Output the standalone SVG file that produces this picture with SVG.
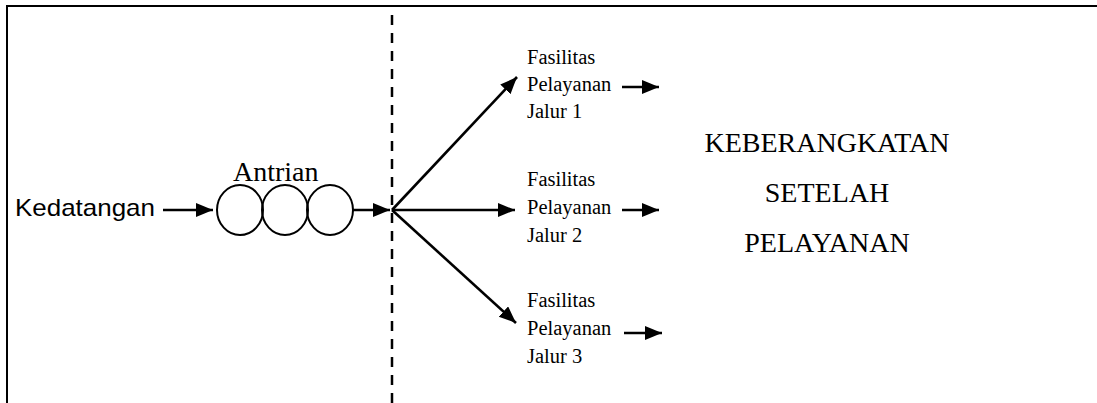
<svg xmlns="http://www.w3.org/2000/svg" width="1097" height="403" viewBox="0 0 1097 403">
<defs>
<marker id="ah" markerWidth="20" markerHeight="16" refX="17" refY="7" orient="auto" markerUnits="userSpaceOnUse">
<path d="M0,0 L17,7 L0,14 z" fill="#000"/>
</marker>
<style>
.ln{stroke:#000;stroke-width:2;fill:none}
.arr{stroke:#000;stroke-width:2.6;fill:none;marker-end:url(#ah)}
.tn{font-family:"Liberation Serif","Times New Roman",serif;fill:#000}
.sm{font-size:20.5px}
</style>
</defs>
<rect width="1097" height="403" fill="#fff"/>
<g id="frame">
<polyline class="ln" points="7,403 7,6 1097,6"/>
<line x1="392" y1="15" x2="392" y2="403" stroke="#000" stroke-width="2.5" stroke-dasharray="10 8"/>
</g>
<g id="kedatangan">
<text x="15" y="216" font-family="Liberation Sans, Arial, sans-serif" font-size="24" textLength="140" lengthAdjust="spacingAndGlyphs">Kedatangan</text>
</g>
<g id="antrian">
<text x="233" y="181" font-family="Liberation Serif, Times New Roman, serif" font-size="28">Antrian</text>
<ellipse class="ln" cx="240" cy="210" rx="23" ry="25"/>
<ellipse class="ln" cx="285" cy="210" rx="23" ry="25"/>
<ellipse class="ln" cx="330" cy="210" rx="23" ry="25"/>
</g>
<g id="jalur1">
<text class="tn sm" x="527" y="64">Fasilitas</text>
<text class="tn sm" x="527" y="91">Pelayanan</text>
<text class="tn sm" x="527" y="118">Jalur 1</text>
</g>
<g id="jalur2">
<text class="tn sm" x="527" y="186">Fasilitas</text>
<text class="tn sm" x="527" y="214">Pelayanan</text>
<text class="tn sm" x="527" y="242">Jalur 2</text>
</g>
<g id="jalur3">
<text class="tn sm" x="527" y="307">Fasilitas</text>
<text class="tn sm" x="527" y="335">Pelayanan</text>
<text class="tn sm" x="527" y="363">Jalur 3</text>
</g>
<g id="keberangkatan">
<text class="tn" x="827" y="152" font-size="28" text-anchor="middle">KEBERANGKATAN</text>
<text class="tn" x="827" y="202" font-size="28" text-anchor="middle">SETELAH</text>
<text class="tn" x="827" y="252" font-size="28" text-anchor="middle">PELAYANAN</text>
</g>
<g id="connectors">
<line class="arr" x1="163" y1="210" x2="213" y2="210"/>
<line class="arr" x1="353" y1="210" x2="390" y2="210"/>
<line class="arr" x1="392" y1="210" x2="517" y2="77"/>
<line class="arr" x1="392" y1="210" x2="515" y2="210"/>
<line class="arr" x1="392" y1="210" x2="516" y2="323"/>
<line class="arr" x1="622" y1="87" x2="659" y2="87"/>
<line class="arr" x1="622" y1="210" x2="659" y2="210"/>
<line class="arr" x1="624" y1="333" x2="662" y2="333"/>
</g>
</svg>
